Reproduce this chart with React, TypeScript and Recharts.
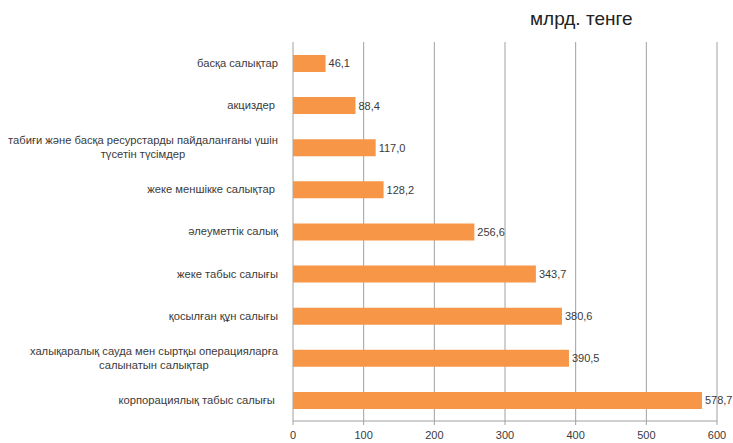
import { BarChart, Bar, XAxis, YAxis, CartesianGrid, LabelList } from 'recharts';

const categories = [
  'басқа салықтар',
  'акциздер ',
  'табиғи және басқа ресурстарды пайдаланғаны үшін\nтүсетін түсімдер',
  'жеке меншікке салықтар ',
  'әлеуметтік салық',
  'жеке табыс салығы',
  'қосылған құн салығы',
  'халықаралық сауда мен сыртқы операцияларға\nсалынатын салықтар',
  'корпорациялық табыс салығы ',
];
const values = [46.1, 88.4, 117.0, 128.2, 256.6, 343.7, 380.6, 390.5, 578.7];
const xTicks = [0, 100, 200, 300, 400, 500, 600];
const bandEdges = [0, 1, 2, 3, 4, 5, 6, 7, 8, 9];

const FONT = '"Liberation Sans", Arial, sans-serif';
const TEXT = '#3a3a3a';
const GRID = '#a0a0a0';
const CAT_SIZE = 11.2;

let ctx: CanvasRenderingContext2D | null = null;
function textWidth(s: string) {
  if (!ctx) ctx = document.createElement('canvas').getContext('2d');
  if (!ctx) return s.length * 5.8;
  ctx.font = `${CAT_SIZE}px "Liberation Sans", Arial, sans-serif`;
  return ctx.measureText(s).width;
}

function CategoryTick(props: any) {
  const { x, y, payload } = props;
  const lines = String(payload.value).split('\n');
  if (lines.length === 1) {
    return (
      <text x={x} y={y} dy="0.35em" textAnchor="end" fontSize={CAT_SIZE} fontFamily={FONT} fill={TEXT} style={{ whiteSpace: 'pre' }}>
        {lines[0]}
      </text>
    );
  }
  const w = Math.max(...lines.map(textWidth));
  const cx = x - w / 2;
  return (
    <text x={cx} y={y} textAnchor="middle" fontSize={CAT_SIZE} fontFamily={FONT} fill={TEXT}>
      {lines.map((l, i) => (
        <tspan key={i} x={cx} dy={i === 0 ? '-0.28em' : '1.25em'}>
          {l}
        </tspan>
      ))}
    </text>
  );
}

export default function App() {
  const data = categories.map((name, i) => ({ name, value: values[i] }));

  return (
    <div style={{ position: 'fixed', left: 0, top: 0, width: 733, height: 443, background: '#fff' }}>
      <div
        style={{
          position: 'absolute',
          left: 530,
          top: 8,
          fontFamily: FONT,
          fontSize: 19,
          color: '#222',
        }}
      >
        млрд. тенге
      </div>
      <BarChart
        width={733}
        height={443}
        data={data}
        layout="vertical"
        margin={{ top: 42, right: 16, bottom: 0, left: 0 }}
      >
        <CartesianGrid horizontal={false} vertical stroke={GRID} strokeWidth={1} />
        <XAxis
          type="number"
          domain={[0, 600]}
          ticks={xTicks}
          interval={0}
          height={22}
          axisLine={{ stroke: GRID }}
          tickLine={{ stroke: GRID }}
          tickSize={4}
          tickMargin={6}
          tick={{ fontSize: 11, fontFamily: FONT, fill: TEXT }}
        />
        <YAxis
          yAxisId="edges"
          type="number"
          domain={[0, 9]}
          ticks={bandEdges}
          interval={0}
          width={0}
          tick={false}
          tickLine={{ stroke: GRID }}
          tickSize={5}
          axisLine={{ stroke: GRID }}
        />
        <YAxis
          yAxisId="cat"
          type="category"
          dataKey="name"
          width={293}
          axisLine={false}
          tickLine={false}
          tickSize={0}
          tickMargin={15}
          interval={0}
          tick={<CategoryTick />}
        />
        <Bar yAxisId="cat" dataKey="value" fill="#F79646" barSize={17} isAnimationActive={false}>
          <LabelList
            dataKey="value"
            position="right"
            offset={3}
            fontSize={11}
            fontFamily={FONT}
            fill={TEXT}
            formatter={(v: any) => Number(v).toFixed(1).replace('.', ',')}
          />
        </Bar>
      </BarChart>
    </div>
  );
}
